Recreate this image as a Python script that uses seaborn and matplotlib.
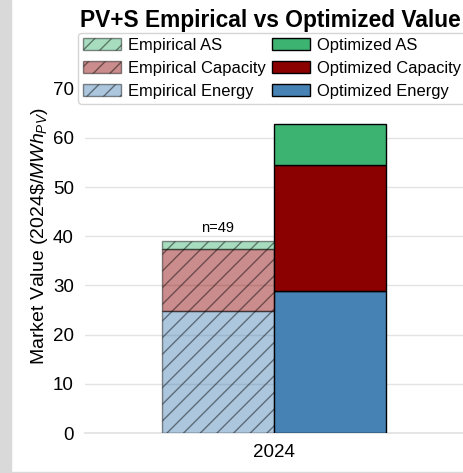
import numpy as np
import seaborn as sns
import matplotlib
matplotlib.use("Agg")
import matplotlib.pyplot as plt
from matplotlib.patches import Rectangle

# values (2024$/MWh_PV)
year_labels = ["2024"]
components = ["Energy", "Capacity", "AS"]
empirical_vals = [24.8, 12.6, 1.6]
optimized_vals = [28.8, 25.7, 8.4]
n_projects = 49

comp_colors = {"Energy": "#4682b4", "Capacity": "#8b0000", "AS": "#3cb371"}

sns.set_theme(style="whitegrid", rc={"grid.color": "#e3e3e3", "axes.edgecolor": "#e3e3e3",
                                     "text.color": "black", "axes.labelcolor": "black",
                                     "xtick.color": "black", "ytick.color": "black"})
plt.rcParams["font.family"] = ["Liberation Sans", "DejaVu Sans"]
plt.rcParams["mathtext.fontset"] = "custom"
plt.rcParams["mathtext.rm"] = "Liberation Sans"
plt.rcParams["mathtext.it"] = "Liberation Sans:italic"

fig = plt.figure(figsize=(4.64, 4.73), dpi=100)
ax = fig.add_axes([85 / 464, 40 / 473, 378 / 464, 393.4 / 473])

x = np.arange(len(year_labels))
width = 0.4
bottom_emp = np.zeros(len(year_labels))
bottom_opt = np.zeros(len(year_labels))
handles_emp, handles_opt = [], []
for i, comp in enumerate(components):
    e = np.array([empirical_vals[i]])
    o = np.array([optimized_vals[i]])
    he = ax.bar(x - width / 2, e, width, bottom=bottom_emp, color=comp_colors[comp],
                edgecolor="black", linewidth=1, hatch="//", alpha=0.45,
                label=f"Empirical {comp}", zorder=3)
    ho = ax.bar(x + width / 2, o, width, bottom=bottom_opt, color=comp_colors[comp],
                edgecolor="black", linewidth=1, label=f"Optimized {comp}", zorder=3)
    bottom_emp += e
    bottom_opt += o
    handles_emp.append(he)
    handles_opt.append(ho)

for xi, tot in zip(x, bottom_emp):
    ax.text(xi - width / 2, tot + 1.2, f"n={n_projects}", ha="center", va="bottom", fontsize=10.5)

ax.set_xlim(-0.675, 0.675)
ax.set_ylim(0, 80)
ax.set_xticks(x)
ax.set_xticklabels(year_labels, fontsize=13.5)
ax.set_yticks(np.arange(0, 80, 10))
ax.tick_params(axis="y", labelsize=13.5, pad=2)
ax.tick_params(axis="x", pad=2)
ax.grid(axis="x", visible=False)
ax.set_ylabel(r"Market Value (2024$\$/MWh_{PV}$)", fontsize=14, labelpad=2)
ax.set_title("PV+S Empirical vs Optimized Value", fontsize=16.4, fontweight="bold",
             pad=9, x=0.49)
sns.despine(ax=ax, left=True)

handles = handles_emp[::-1] + handles_opt[::-1]
labels = [h.get_label() for h in handles]
ax.legend(handles, labels, ncol=2, loc="upper center", bbox_to_anchor=(0.495, 1.017),
          borderaxespad=0, fontsize=11.9, labelspacing=0.48, columnspacing=0.4,
          handletextpad=0.4, handlelength=2.3, borderpad=0.3, framealpha=1,
          edgecolor="#d5d5d5")

# screenshot border
fig.patches.append(Rectangle((0, 0), 11 / 464, 1, transform=fig.transFigure,
                             color="#d9d9d9", zorder=-1))
fig.patches.append(Rectangle((0, 0), 1, 1.5 / 473, transform=fig.transFigure,
                             color="#d9d9d9", zorder=-1))

fig.savefig("out.png", dpi=100)
